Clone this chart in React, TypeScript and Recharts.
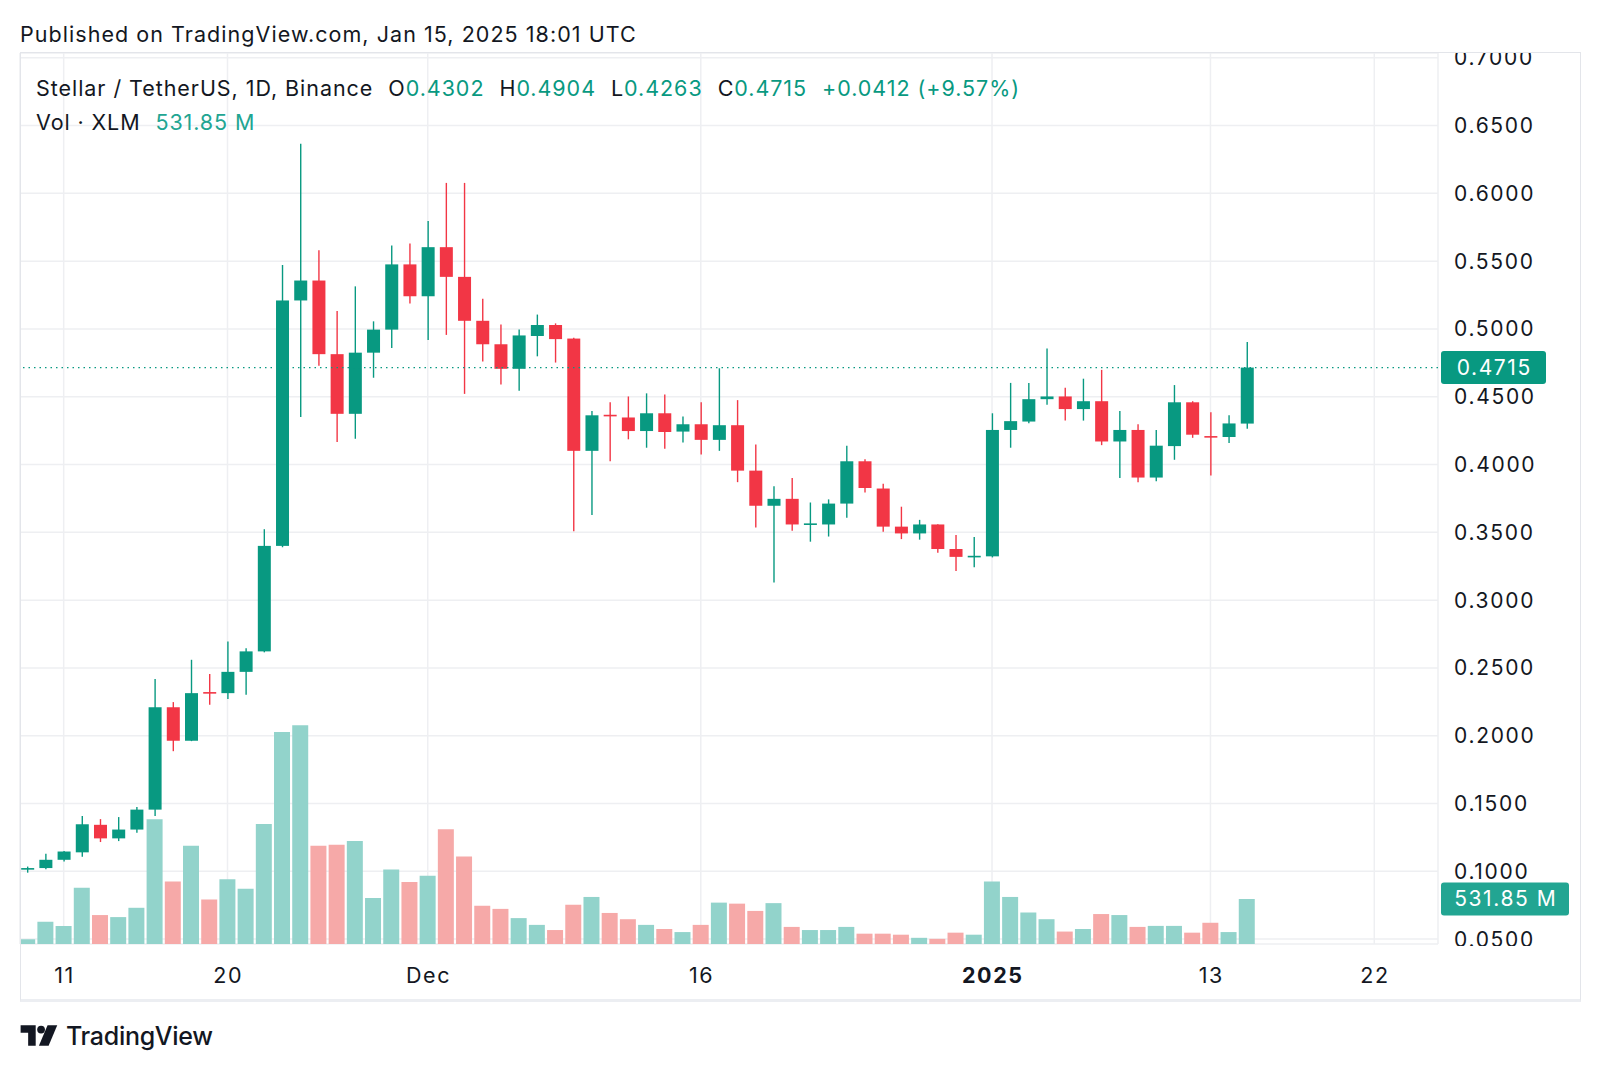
import React from 'react';
import { ComposedChart, Bar, XAxis, YAxis, CartesianGrid, ReferenceLine, Cell } from 'recharts';

// XLM/USDT daily, Nov 9 2024 -> Jan 15 2025
const OPEN = [
  0.1015, 0.1024, 0.1085, 0.1140, 0.1343, 0.1243, 0.1308, 0.1455, 0.2210, 0.1963,
  0.2322, 0.2314, 0.2471, 0.2622, 0.3400, 0.5210, 0.5357, 0.4814, 0.4374, 0.4825,
  0.4995, 0.5476, 0.5241, 0.5603, 0.5384, 0.5060, 0.4887, 0.4706, 0.4948, 0.5029,
  0.4929, 0.4101, 0.4367, 0.4347, 0.4247, 0.4378, 0.4243, 0.4297, 0.4182, 0.4290,
  0.3955, 0.3696, 0.3747, 0.3558, 0.3558, 0.3712, 0.4024, 0.3823, 0.3542, 0.3492,
  0.3558, 0.3377, 0.3319, 0.3323, 0.4255, 0.4317, 0.4482, 0.4502, 0.4409, 0.4467,
  0.4170, 0.4255, 0.3904, 0.4136, 0.4459, 0.4210, 0.4203, 0.4302,
];
const HIGH = [
  0.1035, 0.1130, 0.1150, 0.1408, 0.1385, 0.1400, 0.1474, 0.2418, 0.2248, 0.2560,
  0.2456, 0.2695, 0.2645, 0.3523, 0.5472, 0.6366, 0.5580, 0.5133, 0.5314, 0.5056,
  0.5615, 0.5630, 0.5796, 0.6077, 0.6077, 0.5222, 0.5033, 0.4995, 0.5106, 0.5041,
  0.4935, 0.4394, 0.4459, 0.4502, 0.4525, 0.4517, 0.4355, 0.4459, 0.4710, 0.4475,
  0.4147, 0.3839, 0.3901, 0.3720, 0.3743, 0.4139, 0.4039, 0.3858, 0.3689, 0.3592,
  0.3560, 0.3481, 0.3465, 0.4378, 0.4602, 0.4602, 0.4856, 0.4567, 0.4633, 0.4698,
  0.4394, 0.4297, 0.4255, 0.4586, 0.4467, 0.4386, 0.4363, 0.4904,
];
const LOW = [
  0.0990, 0.1015, 0.1073, 0.1108, 0.1216, 0.1223, 0.1285, 0.1408, 0.1886, 0.1960,
  0.2229, 0.2271, 0.2302, 0.2615, 0.3390, 0.4351, 0.4729, 0.4166, 0.4190, 0.4640,
  0.4860, 0.5187, 0.4918, 0.4956, 0.4521, 0.4760, 0.4590, 0.4544, 0.4798, 0.4752,
  0.3508, 0.3627, 0.4024, 0.4186, 0.4124, 0.4116, 0.4163, 0.4074, 0.4101, 0.3870,
  0.3535, 0.3130, 0.3512, 0.3431, 0.3469, 0.3608, 0.3793, 0.3504, 0.3450, 0.3446,
  0.3350, 0.3215, 0.3242, 0.3315, 0.4124, 0.4305, 0.4440, 0.4324, 0.4324, 0.4143,
  0.3901, 0.3870, 0.3877, 0.4035, 0.4197, 0.3920, 0.4159, 0.4263,
];
const CLOSE = [
  0.1024, 0.1085, 0.1146, 0.1347, 0.1243, 0.1308, 0.1455, 0.2210, 0.1963, 0.2314,
  0.2312, 0.2471, 0.2622, 0.3400, 0.5210, 0.5357, 0.4814, 0.4374, 0.4825, 0.4995,
  0.5476, 0.5241, 0.5603, 0.5384, 0.5060, 0.4887, 0.4706, 0.4952, 0.5029, 0.4925,
  0.4101, 0.4363, 0.4360, 0.4247, 0.4378, 0.4240, 0.4297, 0.4182, 0.4290, 0.3955,
  0.3696, 0.3747, 0.3558, 0.3566, 0.3712, 0.4024, 0.3827, 0.3542, 0.3492, 0.3558,
  0.3377, 0.3319, 0.3327, 0.4255, 0.4320, 0.4482, 0.4502, 0.4409, 0.4467, 0.4170,
  0.4255, 0.3904, 0.4139, 0.4459, 0.4220, 0.4203, 0.4303, 0.4715,
];
// volume in millions of XLM
const VOLUME = [
  55, 263, 214, 666, 342, 318, 428, 1473, 739, 1161,
  526, 764, 654, 1418, 2505, 2585, 1161, 1173, 1216, 544,
  880, 733, 807, 1356, 1033, 452, 415, 306, 226, 165,
  464, 556, 367, 293, 226, 177, 141, 226, 489, 477,
  391, 483, 202, 165, 165, 202, 122, 122, 110, 73,
  61, 134, 110, 739, 556, 373, 293, 147, 177, 354,
  342, 202, 214, 214, 134, 251, 141, 531.85,
];

const TICK_IDX = [2, 11, 22, 37, 53, 65, 74];
const TICK_LABELS = ['11', '20', 'Dec', '16', '2025', '13', '22'];
const PRICE_TICKS = [0.05, 0.1, 0.15, 0.2, 0.25, 0.3, 0.35, 0.4, 0.45, 0.5, 0.55, 0.6, 0.65, 0.7];

const GREEN = '#089981';
const RED = '#F23645';
const GREEN_VOL = '#92d3cb';
const RED_VOL = '#f6a9a8';
const FONT = "Inter, 'Noto Sans', sans-serif";

const data = OPEN.map((o, i) => ({
  i,
  open: o,
  high: HIGH[i],
  low: LOW[i],
  close: CLOSE[i],
  range: [LOW[i], HIGH[i]],
  volume: VOLUME[i],
}));

const last = data[data.length - 1];

const Candle = (props: any) => {
  const { x, y, width, height, payload } = props;
  if (!payload) return null;
  const { open, close, high, low } = payload;
  const color = close >= open ? GREEN : RED;
  const top = Math.min(y, y + height);
  const h = Math.abs(height);
  const ratio = high > low ? h / (high - low) : 0;
  const yOf = (v: number) => top + (high - v) * ratio;
  const bTop = yOf(Math.max(open, close));
  const bBot = yOf(Math.min(open, close));
  const cx = x + width / 2;
  return (
    <g>
      <line x1={cx} x2={cx} y1={top} y2={top + h} stroke={color} strokeWidth={1.4} />
      <rect x={x} y={bTop} width={width} height={Math.max(bBot - bTop, 1.6)} fill={color} />
    </g>
  );
};

const XTick = (props: any) => {
  const { x, y, payload } = props;
  const k = TICK_IDX.indexOf(payload.value);
  const label = TICK_LABELS[k] ?? '';
  return (
    <text x={x + 0.8} y={y + 31} textAnchor="middle" dominantBaseline="central" fontFamily={FONT}
      fontSize={21.5} fontWeight={label === '2025' ? 700 : 400} fill="#131722" letterSpacing={1.6}>
      {label}
    </text>
  );
};

const YTick = (props: any) => {
  const { x, y, payload } = props;
  return (
    <text x={x + 16} y={y} textAnchor="start" dominantBaseline="central" fontFamily={FONT}
      fontSize={21} fill="#131722" letterSpacing={1.7}>
      {Number(payload.value).toFixed(4)}
    </text>
  );
};

const AxisBadge = ({ viewBox, text, w, color }: any) => {
  if (!viewBox) return null;
  const bx = viewBox.x + viewBox.width + 3;
  const by = viewBox.y;
  return (
    <g>
      <rect x={bx} y={by - 16.5} width={w} height={33} rx={3} fill={color} />
      <text x={bx + w / 2 + 0.8} y={by} textAnchor="middle" dominantBaseline="central" fontFamily={FONT}
        fontSize={21} fill="#fff" letterSpacing={1.6}>
        {text}
      </text>
    </g>
  );
};

export default function App() {
  return (
    <div style={{ position: 'absolute', left: 0, top: 0, width: 1600, height: 1070, background: '#fff', fontFamily: FONT, color: '#131722' }}>
      <ComposedChart width={1600} height={1070} data={data} margin={{ top: 53, right: 20, bottom: 70, left: 20 }}>
        <CartesianGrid stroke="#eeeff2" strokeWidth={1.5} />
        <XAxis type="number" dataKey="i" domain={[-0.4, 77.5]} ticks={TICK_IDX} allowDataOverflow
          axisLine={false} tickLine={false} tickSize={0} tickMargin={0} height={56} tick={<XTick />} interval={0} />
        <XAxis xAxisId="v" type="number" dataKey="i" domain={[-0.4, 77.5]} allowDataOverflow hide />
        <YAxis orientation="right" type="number" domain={[0.0464, 0.7035]} ticks={PRICE_TICKS} allowDataOverflow
          axisLine={false} tickLine={false} tickSize={0} tickMargin={0} width={142} tick={<YTick />} interval={0} />
        <YAxis yAxisId="vol" type="number" domain={[0, 10530]} allowDataOverflow hide />
        <Bar xAxisId="v" yAxisId="vol" dataKey="volume" barSize={16} isAnimationActive={false}>
          {data.map((d, k) => (
            <Cell key={`v-${k}`} fill={d.close >= d.open ? GREEN_VOL : RED_VOL} />
          ))}
        </Bar>
        <Bar dataKey="range" barSize={13} shape={<Candle />} isAnimationActive={false} />
        <ReferenceLine y={last.close} stroke={GREEN} strokeWidth={1.3} strokeDasharray="1.5 4"
          label={<AxisBadge text={last.close.toFixed(4)} w={105} color={GREEN} />} />
        <ReferenceLine xAxisId="v" yAxisId="vol" y={last.volume} stroke="none"
          label={<AxisBadge text={`${last.volume.toFixed(2)} M`} w={128} color="#22a592" />} />
      </ComposedChart>

      {/* clip the price scale to the pane */}
      <div style={{ position: 'absolute', left: 1440, top: 0, width: 150, height: 52, background: '#fff' }} />
      <div style={{ position: 'absolute', left: 1440, top: 946, width: 138, height: 52, background: '#fff' }} />

      <div style={{ position: 'absolute', left: 20, top: 52, width: 1561, height: 950, boxSizing: 'border-box',
        border: '1px solid #e3e5ea', borderBottom: '3px solid #eceef2', pointerEvents: 'none' }} />

      <div style={{ position: 'absolute', left: 20, top: 21, fontSize: 21.5, letterSpacing: 1.05, whiteSpace: 'nowrap' }}>
        Published on TradingView.com, Jan 15, 2025 18:01 UTC
      </div>

      <div style={{ position: 'absolute', left: 36, top: 75, fontSize: 21.5, letterSpacing: 0.95, whiteSpace: 'nowrap', display: 'flex', gap: 15 }}>
        <span>Stellar / TetherUS, 1D, Binance</span>
        <span>O<span style={{ color: GREEN }}>{OPEN[OPEN.length - 1].toFixed(4)}</span></span>
        <span>H<span style={{ color: GREEN }}>{last.high.toFixed(4)}</span></span>
        <span>L<span style={{ color: GREEN }}>{last.low.toFixed(4)}</span></span>
        <span>C<span style={{ color: GREEN }}>{last.close.toFixed(4)}</span></span>
        <span style={{ color: GREEN }}>+0.0412 (+9.57%)</span>
      </div>
      <div style={{ position: 'absolute', left: 36, top: 109, fontSize: 21.5, letterSpacing: 0.9, whiteSpace: 'nowrap' }}>
        Vol · XLM <span style={{ color: '#22a592', marginLeft: 8 }}>531.85 M</span>
      </div>

      <div style={{ position: 'absolute', left: 20, top: 1021, display: 'flex', alignItems: 'center', gap: 6 }}>
        <svg width={40} height={28} viewBox="0 0 36 26">
          <path d="M0 3h14v19H7V10H0z" fill="#131722" />
          <circle cx={19} cy={7} r={3.6} fill="#131722" />
          <path d="M25 3h9l-8 19h-9z" fill="#131722" />
        </svg>
        <span style={{ fontSize: 25, fontWeight: 500, letterSpacing: -0.3 }}>TradingView</span>
      </div>
    </div>
  );
}
